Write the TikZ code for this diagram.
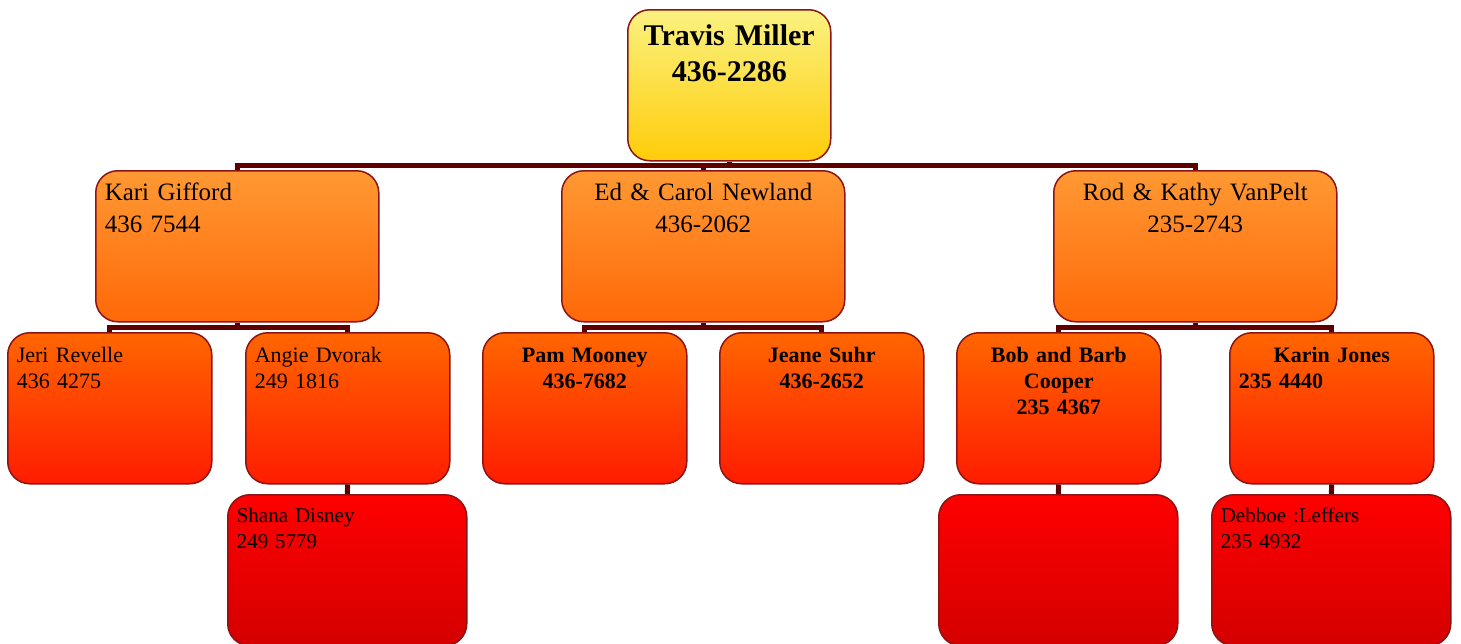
\documentclass[tikz,border=0pt]{standalone}
\usepackage{fontspec}
\setmainfont{Liberation Serif}
\usepackage{tikz}

\definecolor{boxline}{RGB}{140,20,20}
\definecolor{linkred}{RGB}{95,0,0}
\definecolor{yelTop}{RGB}{250,242,128}
\definecolor{yelBot}{RGB}{255,204,10}
\definecolor{orTop}{RGB}{255,153,51}
\definecolor{orBot}{RGB}{255,104,8}
\definecolor{redTop}{RGB}{255,102,0}
\definecolor{redBot}{RGB}{255,28,0}
\definecolor{deepTop}{RGB}{255,0,0}
\definecolor{deepBot}{RGB}{212,0,0}

\begin{document}
\begin{tikzpicture}[x=1pt,y=-1pt,
    box/.style={draw=boxline, line width=1.5pt, rounded corners=22pt,
      anchor=north west, inner xsep=9pt, inner ysep=0pt},
    boss/.style={box, top color=yelTop, bottom color=yelBot, text width=185pt,
      text height=36pt, text depth=115pt, align=center,
      font=\fontsize{30}{36}\selectfont\bfseries},
    lvlone/.style={box, top color=orTop, bottom color=orBot, text width=265pt,
      text height=30pt, text depth=121pt, font=\fontsize{25}{32}\selectfont},
    lvltwo/.style={box, top color=redTop, bottom color=redBot, text width=186pt,
      text height=30pt, text depth=121pt, font=\fontsize{22}{26}\selectfont},
    lvlthree/.style={box, top color=deepTop, bottom color=deepBot, text width=221pt,
      text height=28pt, text depth=123pt, font=\fontsize{21}{26}\selectfont},
    link/.style={draw=linkred, line width=5pt}]
    \useasboundingbox (0,0) rectangle (1461,643);

    % top
    \node[boss] (travis) at (627,9) {Travis Miller\\436-2286};

    % first row
    \node[lvlone, align=left] (kari) at (95,170) {Kari Gifford\\436 7544};
    \node[lvlone, align=center] (ed) at (561,170) {Ed \& Carol Newland\\436-2062};
    \node[lvlone, align=center] (rod) at (1053,170) {Rod \& Kathy VanPelt\\235-2743};

    % second row
    \node[lvltwo, align=left] (jeri) at (7,332) {Jeri Revelle\\436 4275};
    \node[lvltwo, align=left] (angie) at (245,332) {Angie Dvorak\\249 1816};
    \node[lvltwo, align=center, font=\fontsize{22}{26}\selectfont\bfseries] (pam) at (482,332) {Pam Mooney\\436-7682};
    \node[lvltwo, align=center, font=\fontsize{22}{26}\selectfont\bfseries] (jeane) at (719,332) {Jeane Suhr\\436-2652};
    \node[lvltwo, align=center, font=\fontsize{22}{26}\selectfont\bfseries] (bob) at (956,332) {Bob and Barb\\Cooper\\235 4367};
    \node[lvltwo, align=left, font=\fontsize{22}{26}\selectfont\bfseries] (karin) at (1229,332) {\makebox[\linewidth]{Karin Jones}\\235 4440};

    % third row
    \node[lvlthree, align=left] (shana) at (227,494) {Shana Disney\\249 5779};
    \node[lvlthree] (coopkid) at (938,494) {};
    \node[lvlthree, align=left] (debboe) at (1211,494) {Debboe :Leffers\\235 4932};

    % connectors
    \draw[link] (travis.south) -- ++(0,4) -| (kari.north);
    \draw[link] (travis.south) -- ++(0,4) -| (ed.north);
    \draw[link] (travis.south) -- ++(0,4) -| (rod.north);
    \draw[link] (kari.south) -- ++(0,5) -| (jeri.north);
    \draw[link] (kari.south) -- ++(0,5) -| (angie.north);
    \draw[link] (ed.south) -- ++(0,5) -| (pam.north);
    \draw[link] (ed.south) -- ++(0,5) -| (jeane.north);
    \draw[link] (rod.south) -- ++(0,5) -| (bob.north);
    \draw[link] (rod.south) -- ++(0,5) -| (karin.north);
    \draw[link] (angie.south) -- (shana.north);
    \draw[link] (bob.south) -- (coopkid.north);
    \draw[link] (karin.south) -- (debboe.north);
\end{tikzpicture}
\end{document}
